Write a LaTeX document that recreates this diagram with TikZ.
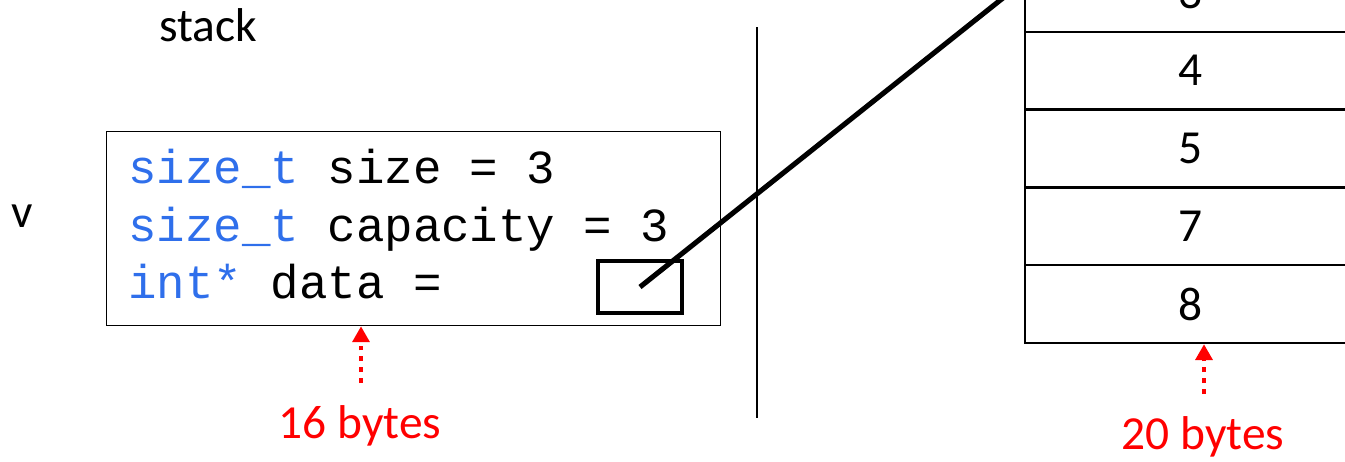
\documentclass[tikz,border=0pt]{standalone}
\usepackage{fontspec}
\setmainfont{Carlito}
\newfontfamily\codefont{Liberation Mono}
\usetikzlibrary{arrows.meta}
\definecolor{typeblue}{HTML}{2F6FEB}
\definecolor{bytesred}{HTML}{FF0000}

\begin{document}
\begin{tikzpicture}[
    x=0.02cm, y=-0.02cm,
    txt/.style={font=\fontsize{27}{32}\selectfont, inner sep=0pt, anchor=base},
    code/.style={font=\codefont\fontsize{27}{32}\selectfont, inner sep=0pt, anchor=base west},
    cell/.style={draw, line width=1.5pt, minimum width=6.64cm, minimum height=1.555cm, inner sep=0pt, font=\fontsize{27}{32}\selectfont},
    bytes/.style={bytesred, line width=2.7pt, dash pattern=on 2.7pt off 3.5pt, -{Triangle[length=9pt, width=9.5pt]}}
]
	\useasboundingbox (0,0) rectangle (1345,461);
	\clip (0,0) rectangle (1345,461);

	% stack side
	\node[txt] (stacklabel) at (208,41) {stack};
	\node[txt] (vlabel) at (22,227) {v};
	\node[draw, line width=0.9pt, minimum width=12.28cm, minimum height=3.88cm] (struct) at (413.5,228.5) {};
	\node[code] (sizeline) at (128,183) {\textcolor{typeblue}{size\_t} size = 3};
	\node[code] (capline) at (128,241) {\textcolor{typeblue}{size\_t} capacity = 3};
	\node[code] (dataline) at (128,298) {\textcolor{typeblue}{int*} data =};
	\node[draw, line width=2.7pt, minimum width=1.68cm, minimum height=1.04cm] (ptrbox) at (640,287) {};

	\coordinate (divtop) at (757,27);
	\coordinate (divbot) at (757,418);
	\draw [line width=0.9pt] (divtop) -- (divbot);

	% heap side
	\foreach \v [count=\i] in {3,4,5,7,8} {
        \node[cell] (cell\v) at (1191, {-7+77.75*(\i-1)}) {\v};
    }
	\coordinate (heaptarget) at (1062,-49);
	\draw [line width=2.9pt] (ptrbox.center) -- (heaptarget);

	% sizes
	\node[txt, bytesred] (lab16) at (360,438) {16 bytes};
	\node[txt, bytesred] (lab20) at (1203,449) {20 bytes};
	\coordinate (tail16) at (361,383);
	\coordinate (tail20) at (1204,394);
	\draw [bytes] (tail16) -- (tail16 |- struct.south);
	\draw [bytes] (tail20) -- (tail20 |- cell8.south);
\end{tikzpicture}
\end{document}
